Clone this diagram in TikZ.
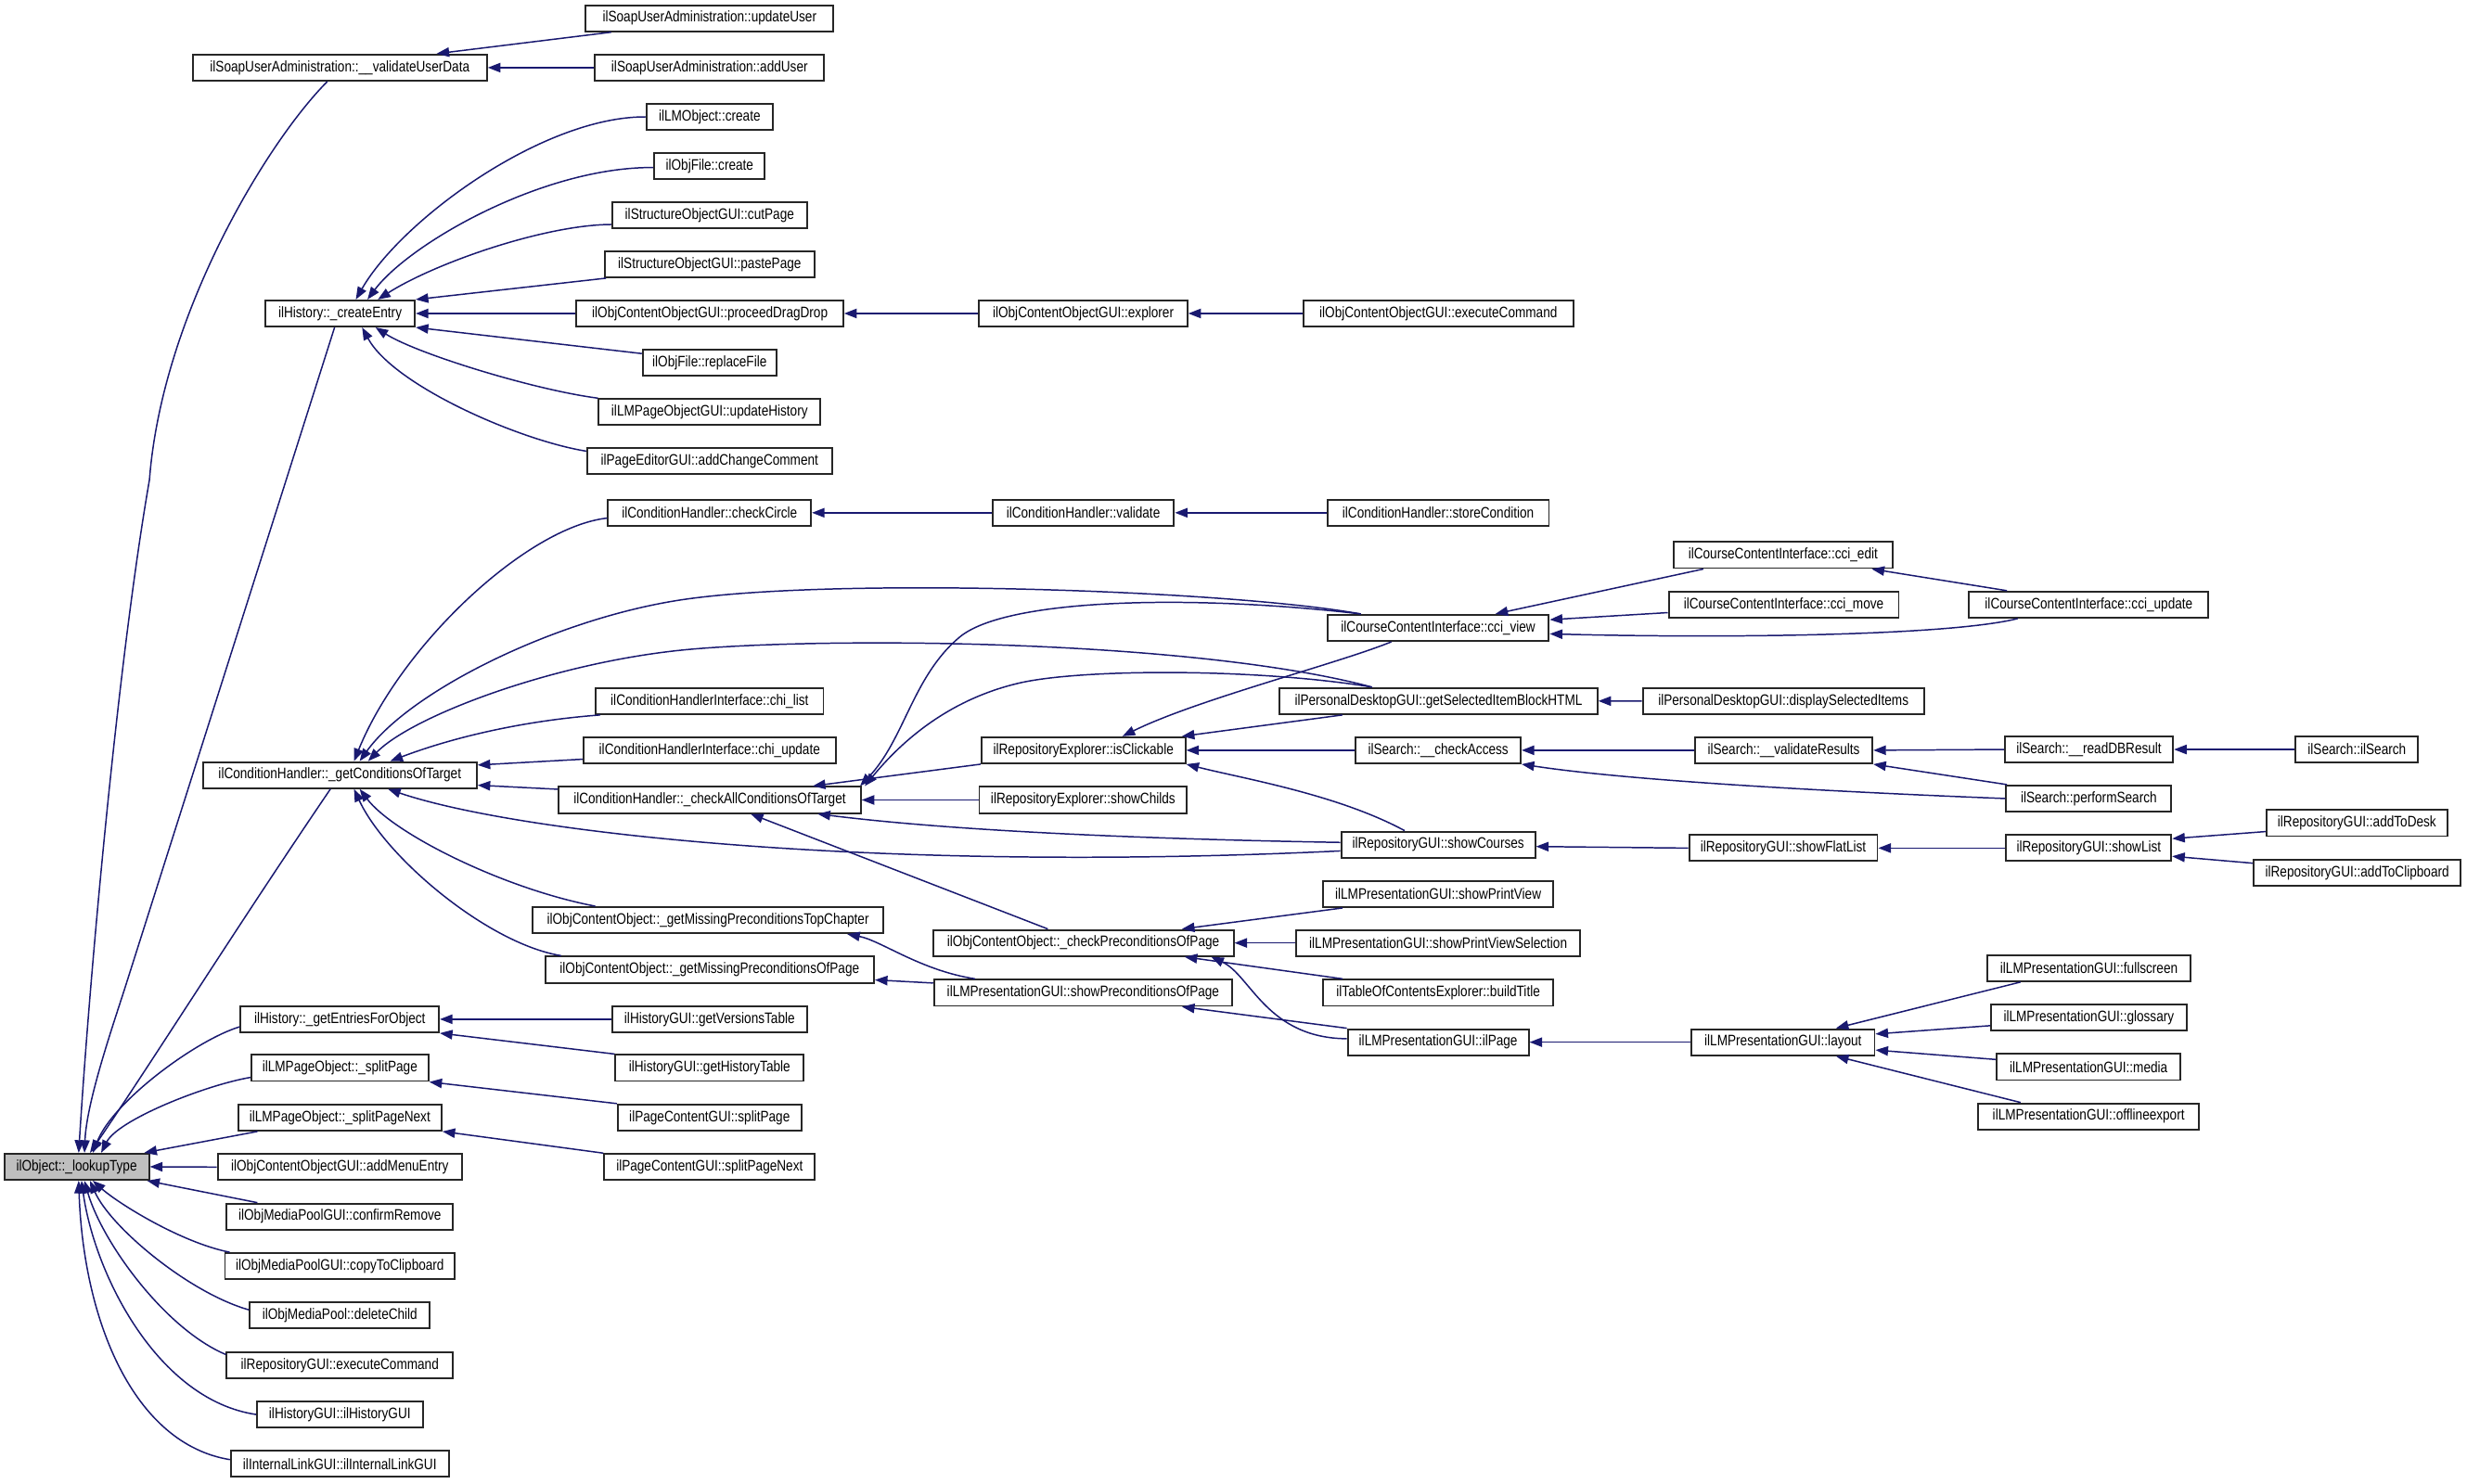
\documentclass[tikz,border=0pt]{standalone}
\usepackage{fontspec}
\newfontfamily\dxfont{Liberation Sans}[FakeStretch=0.83]
\usetikzlibrary{arrows.meta,calc}
\definecolor{edgeblue}{RGB}{25,25,112}
\definecolor{lookupgray}{RGB}{191,191,191}
\newcommand{\mkbox}[5]{\node[dbox, minimum width=#4*0.02cm] (#1) at (#2,#3) {#5};}
\begin{document}
\begin{tikzpicture}[x=0.02cm,y=-0.02cm,
  dbox/.style={draw=black!85, line width=0.65pt, fill=white, minimum height=0.332cm, inner sep=0pt, font=\dxfont\fontsize{5.5pt}{6.5pt}\selectfont},
  callarrow/.style={draw=edgeblue, line width=0.5pt, {Triangle[length=0.16cm,width=0.12cm]}-}]
\fill[white] (0,0) rectangle (1568,943);
\useasboundingbox (0,0) rectangle (1568,943);

% column 0
\node[dbox, fill=lookupgray, minimum width=92*0.02cm] (lookup) at (48.7,741.8) {ilObject::\_lookupType};

% column 1
\mkbox{vud}{216}{43}{187}{ilSoapUserAdministration::\_\_validateUserData}
\mkbox{ce}{216.15}{199.3}{95}{ilHistory::\_createEntry}
\mkbox{gct}{216}{492.8}{174}{ilConditionHandler::\_getConditionsOfTarget}
\mkbox{gefo}{216}{648}{126}{ilHistory::\_getEntriesForObject}
\mkbox{lsp}{216}{679}{112.6}{ilLMPageObject::\_splitPage}
\mkbox{lspn}{216}{710.5}{129.3}{ilLMPageObject::\_splitPageNext}
\mkbox{ame}{216}{742}{155.3}{ilObjContentObjectGUI::addMenuEntry}
\mkbox{cr}{216}{773.5}{143.7}{ilObjMediaPoolGUI::confirmRemove}
\mkbox{ctc}{216}{805}{146}{ilObjMediaPoolGUI::copyToClipboard}
\mkbox{dc}{216}{836.3}{114.3}{ilObjMediaPool::deleteChild}
\mkbox{rec}{216}{868}{143.7}{ilRepositoryGUI::executeCommand}
\mkbox{hgui}{216}{899.3}{105.3}{ilHistoryGUI::ilHistoryGUI}
\mkbox{ilg}{216}{930.7}{138.6}{ilInternalLinkGUI::ilInternalLinkGUI}

% column 2
\mkbox{uu}{451}{11.6}{157.4}{ilSoapUserAdministration::updateUser}
\mkbox{au}{451}{43}{145.6}{ilSoapUserAdministration::addUser}
\mkbox{lmc}{451}{74.3}{80.2}{ilLMObject::create}
\mkbox{ofc}{451}{105.5}{70.3}{ilObjFile::create}
\mkbox{cp}{451}{136.7}{123.8}{ilStructureObjectGUI::cutPage}
\mkbox{pp}{451}{168}{133.3}{ilStructureObjectGUI::pastePage}
\mkbox{pdd}{451.2}{199.3}{169.5}{ilObjContentObjectGUI::proceedDragDrop}
\mkbox{rf}{451}{230.5}{85}{ilObjFile::replaceFile}
\mkbox{uh}{451}{262}{140.8}{ilLMPageObjectGUI::updateHistory}
\mkbox{acc}{451}{293.3}{155.7}{ilPageEditorGUI::addChangeComment}
\mkbox{cc}{451}{326}{129}{ilConditionHandler::checkCircle}
\mkbox{chl}{451}{445.7}{144.7}{ilConditionHandlerInterface::chi\_list}
\mkbox{chu}{451}{477}{160.4}{ilConditionHandlerInterface::chi\_update}
\mkbox{cact}{451.1}{508.6}{192}{ilConditionHandler::\_checkAllConditionsOfTarget}
\mkbox{tc}{450}{585}{223}{ilObjContentObject::\_getMissingPreconditionsTopChapter}
\mkbox{mpp}{451}{616.5}{209}{ilObjContentObject::\_getMissingPreconditionsOfPage}
\mkbox{gvt}{451}{648}{124}{ilHistoryGUI::getVersionsTable}
\mkbox{ght}{451}{679}{119.6}{ilHistoryGUI::getHistoryTable}
\mkbox{pcsp}{451}{710.5}{116.8}{ilPageContentGUI::splitPage}
\mkbox{pcspn}{451}{742}{134}{ilPageContentGUI::splitPageNext}

% column 3
\mkbox{exp}{688.5}{199.3}{132.4}{ilObjContentObjectGUI::explorer}
\mkbox{val}{688.5}{326}{115.4}{ilConditionHandler::validate}
\mkbox{isc}{688.6}{477}{129.6}{ilRepositoryExplorer::isClickable}
\mkbox{sch}{688.4}{508.6}{132}{ilRepositoryExplorer::showChilds}
\mkbox{cpp}{688.5}{599.5}{191.1}{ilObjContentObject::\_checkPreconditionsOfPage}
\mkbox{spp}{688.4}{631.2}{189.5}{ilLMPresentationGUI::showPreconditionsOfPage}

% column 4
\mkbox{oec}{914.2}{199.3}{171.6}{ilObjContentObjectGUI::executeCommand}
\mkbox{sc}{914.1}{326}{140.8}{ilConditionHandler::storeCondition}
\mkbox{ccv}{914.1}{399.2}{140.7}{ilCourseContentInterface::cci\_view}
\mkbox{gsib}{914.3}{445.7}{202}{ilPersonalDesktopGUI::getSelectedItemBlockHTML}
\mkbox{ca}{914.1}{477}{104.9}{ilSearch::\_\_checkAccess}
\mkbox{scs}{914.1}{537}{123.2}{ilRepositoryGUI::showCourses}
\mkbox{spv}{914.1}{568.4}{146.2}{ilLMPresentationGUI::showPrintView}
\mkbox{spvs}{914.1}{599.5}{180.8}{ilLMPresentationGUI::showPrintViewSelection}
\mkbox{bt}{914.1}{631.2}{146.2}{ilTableOfContentsExplorer::buildTitle}
\mkbox{ilp}{914.1}{662.6}{115}{ilLMPresentationGUI::ilPage}

% column 5
\mkbox{cce}{1133.3}{352.9}{139.4}{ilCourseContentInterface::cci\_edit}
\mkbox{ccm}{1133.7}{384.4}{146.2}{ilCourseContentInterface::cci\_move}
\mkbox{dsi}{1133.5}{445.8}{178.7}{ilPersonalDesktopGUI::displaySelectedItems}
\mkbox{vr}{1133.7}{477}{112.8}{ilSearch::\_\_validateResults}
\mkbox{sfl}{1133.4}{539.2}{119.7}{ilRepositoryGUI::showFlatList}
\mkbox{lay}{1133.3}{662.6}{116.3}{ilLMPresentationGUI::layout}

% column 6
\mkbox{ccu}{1327.6}{384.4}{152.1}{ilCourseContentInterface::cci\_update}
\mkbox{rdb}{1327.7}{476.5}{107}{ilSearch::\_\_readDBResult}
\mkbox{ps}{1327.6}{507.7}{104.9}{ilSearch::performSearch}
\mkbox{sl}{1327.6}{539.2}{104.9}{ilRepositoryGUI::showList}
\mkbox{fs}{1327.7}{615.5}{128.8}{ilLMPresentationGUI::fullscreen}
\mkbox{gl}{1327.6}{647}{124.1}{ilLMPresentationGUI::glossary}
\mkbox{md}{1327.5}{678.4}{117}{ilLMPresentationGUI::media}
\mkbox{oe}{1327.5}{709.8}{140.2}{ilLMPresentationGUI::offlineexport}

% column 7
\mkbox{ils}{1498}{476.5}{77.9}{ilSearch::ilSearch}
\mkbox{atd}{1498}{523.3}{114.8}{ilRepositoryGUI::addToDesk}
\mkbox{atc}{1498.2}{555}{131.6}{ilRepositoryGUI::addToClipboard}

% ---- edges into lookupType
\draw[callarrow] ($(lookup.north)+(1.3,0)$) .. controls (57,620) and (75,420) .. (95,305) .. controls (103,200) and (170,90) .. ($(vud.south)+(-8,0)$);
\draw[callarrow] ($(lookup.north)+(5,0)$) .. controls (55,700) and (72.5,650) .. (80.4,625) -- ($(ce.south)+(-3.5,0)$);
\draw[callarrow] ($(lookup.north)+(8.5,0)$) .. controls (100,670) and (150,590) .. ($(gct.south)+(-6,0)$);
\draw[callarrow] ($(lookup.north)+(10.3,0)$) .. controls (72,700) and (125,661) .. ($(gefo.west)+(0,4.8)$);
\draw[callarrow] ($(lookup.north)+(15.6,0)$) .. controls (75,712) and (130,690) .. ($(lsp.west)+(0,6)$);
\draw[callarrow] ($(lookup.north east)+(-3.6,0)$) -- ($(lspn.south west)+(12.8,0)$);
\draw[callarrow] (lookup.east) -- (ame.west);
\draw[callarrow] ($(lookup.south east)+(-1.8,0)$) -- ($(cr.north west)+(20,0)$);
\draw[callarrow] ($(lookup.south)+(10.3,0)$) .. controls (75,765) and (115,790) .. ($(ctc.north west)+(3.5,0)$);
\draw[callarrow] ($(lookup.south)+(8.5,0)$) .. controls (70,780) and (120,822) .. ($(dc.west)+(0,-3.5)$);
\draw[callarrow] ($(lookup.south)+(4.9,0)$) .. controls (65,790) and (105,845) .. ($(rec.west)+(0,-6.8)$);
\draw[callarrow] ($(lookup.south)+(3.1,0)$) .. controls (60,810) and (100,890) .. (hgui.west);
\draw[callarrow] ($(lookup.south)+(1.3,0)$) .. controls (53,840) and (85,918) .. ($(ilg.west)+(0,-2.7)$);

% ---- validateUserData
\draw[callarrow] ($(vud.north)+(61.5,0)$) -- ($(uu.south west)+(16.7,0)$);
\draw[callarrow] (vud.east) -- (au.west);

% ---- createEntry
\draw[callarrow] ($(ce.north)+(10,0)$) .. controls (255,140) and (345,74) .. (lmc.west);
\draw[callarrow] ($(ce.north)+(17.4,0)$) .. controls (260,155) and (345,106) .. ($(ofc.west)+(0,1)$);
\draw[callarrow] ($(ce.north)+(24,0)$) .. controls (275,168) and (345,143) .. ($(cp.west)+(0,6)$);
\draw[callarrow] (ce.north east) -- ($(pp.south west)+(1.4,0)$);
\draw[callarrow] (ce.east) -- (pdd.west);
\draw[callarrow] (ce.south east) -- ($(rf.west)+(0,-5.7)$);
\draw[callarrow] ($(ce.south)+(22.5,0)$) .. controls (265,225) and (340,248) .. (uh.north west);
\draw[callarrow] ($(ce.south)+(14,0)$) .. controls (250,245) and (330,280) .. ($(acc.north west)+(0,2.4)$);
\draw[callarrow] (pdd.east) -- (exp.west);
\draw[callarrow] (exp.east) -- (oec.west);

% ---- getConditionsOfTarget
\draw[callarrow] ($(gct.north)+(9,0)$) .. controls (255,410) and (335,335) .. ($(cc.west)+(0,3.4)$);
\draw[callarrow] (cc.east) -- (val.west);
\draw[callarrow] (val.east) -- (sc.west);
\draw[callarrow] ($(gct.north)+(12.6,0)$) .. controls (260,440) and (350,395) .. (429,382) .. controls (524,366.4) and (780,375) .. ($(ccv.north west)+(21.7,0)$);
\draw[callarrow] ($(gct.north)+(18,0)$) .. controls (262,455) and (355,420) .. (440,412.7) .. controls (533.5,404.7) and (760,407) .. ($(gsib.north west)+(59.2,0)$);
\draw[callarrow] ($(gct.north)+(32,0)$) .. controls (290,468) and (335,458) .. ($(chl.south west)+(3.4,0)$);
\draw[callarrow] ($(gct.east)+(0,-6.4)$) -- ($(chu.west)+(0,5.7)$);
\draw[callarrow] ($(gct.east)+(0,6.4)$) -- ($(cact.west)+(0,-6.8)$);
\draw[callarrow] ($(gct.south)+(30.6,0)$) .. controls (330,530) and (560,555) .. ($(scs.west)+(0,4)$);
\draw[callarrow] ($(gct.south)+(12.6,0)$) .. controls (250,530) and (320,565) .. ($(tc.north west)+(40.4,0)$);
\draw[callarrow] ($(gct.south)+(9,0)$) .. controls (245,545) and (310,600) .. ($(mpp.north west)+(10.8,0)$);

% ---- checkAllConditionsOfTarget
\draw[callarrow] ($(cact.north east)+(-1,0)$) .. controls (575,470) and (580,430) .. (610,405) .. controls (640,380) and (760,378) .. ($(ccv.north west)+(21.7,0)$);
\draw[callarrow] ($(cact.north east)+(2,0)$) .. controls (570,475) and (600,445) .. (649,434) .. controls (690,425) and (800,425) .. ($(gsib.north west)+(59.2,0)$);
\draw[callarrow] ($(cact.north)+(65.5,0)$) -- (isc.south west);
\draw[callarrow] (cact.east) -- (sch.west);
\draw[callarrow] ($(cact.south east)+(-28,0)$) .. controls (620,530) and (760,534) .. ($(scs.west)+(0,-1.4)$);
\draw[callarrow] ($(cact.south)+(26,0)$) -- ($(cpp.north)+(-22.5,0)$);

% ---- isClickable
\draw[callarrow] ($(isc.north)+(24.8,0)$) .. controls (760,445) and (850,422) .. ($(ccv.south)+(-29.8,0)$);
\draw[callarrow] ($(isc.north east)+(-2.8,0)$) -- ($(gsib.south west)+(40.5,0)$);
\draw[callarrow] (isc.east) -- (ca.west);
\draw[callarrow] (isc.south east) .. controls (790,495) and (850,505) .. ($(scs.north)+(-21.3,0)$);

% ---- search
\draw[callarrow] (ca.east) -- (vr.west);
\draw[callarrow] (ca.south east) .. controls (1040,497) and (1180,504) .. (ps.west);
\draw[callarrow] (vr.east) -- (rdb.west);
\draw[callarrow] (vr.south east) -- ($(ps.north west)+(1,0)$);
\draw[callarrow] (rdb.east) -- (ils.west);

% ---- showCourses chain
\draw[callarrow] ($(scs.east)+(0,1.2)$) -- (sfl.west);
\draw[callarrow] (sfl.east) -- (sl.west);
\draw[callarrow] ($(sl.east)+(0,-6)$) -- ($(atd.west)+(0,5.4)$);
\draw[callarrow] ($(sl.east)+(0,5.2)$) -- ($(atc.west)+(0,-6.2)$);

% ---- cci_view
\draw[callarrow] ($(ccv.north)+(36.3,0)$) -- ($(cce.south west)+(19.6,0)$);
\draw[callarrow] ($(ccv.east)+(0,-5.2)$) -- ($(ccm.west)+(0,5.1)$);
\draw[callarrow] ($(ccv.east)+(0,3.8)$) .. controls (1100,406) and (1240,404) .. ($(ccu.south west)+(31.4,0)$);
\draw[callarrow] ($(cce.south east)+(-13.9,0)$) -- ($(ccu.north west)+(24.6,0)$);
\draw[callarrow] (gsib.east) -- (dsi.west);

% ---- preconditions
\draw[callarrow] ($(cpp.north east)+(-33.4,0)$) -- ($(spv.south west)+(12.9,0)$);
\draw[callarrow] (cpp.east) -- (spvs.west);
\draw[callarrow] ($(cpp.south east)+(-31.7,0)$) -- ($(bt.north west)+(12.9,0)$);
\draw[callarrow] ($(cpp.south east)+(-14.8,0)$) .. controls (795,620) and (805,660) .. ($(ilp.west)+(0,-2.2)$);
\draw[callarrow] ($(spp.south east)+(-32.5,0)$) -- (ilp.north west);
\draw[callarrow] ($(mpp.east)+(0,6.5)$) -- ($(spp.west)+(0,-6.2)$);
\draw[callarrow] ($(tc.south east)+(-23.6,0)$) .. controls (560,598) and (585,617) .. ($(spp.north west)+(26.7,0)$);
\draw[callarrow] (ilp.east) -- (lay.west);
\draw[callarrow] ($(lay.north)+(33.6,0)$) -- ($(fs.south west)+(21.5,0)$);
\draw[callarrow] ($(lay.east)+(0,-5.2)$) -- ($(gl.west)+(0,5.1)$);
\draw[callarrow] ($(lay.east)+(0,5)$) -- ($(md.west)+(0,-4.8)$);
\draw[callarrow] ($(lay.south)+(33.6,0)$) -- ($(oe.north west)+(27.4,0)$);

% ---- history / page objects
\draw[callarrow] (gefo.east) -- (gvt.west);
\draw[callarrow] (gefo.south east) -- (ght.north west);
\draw[callarrow] (lsp.south east) -- (pcsp.north west);
\draw[callarrow] (lspn.south east) -- (pcspn.north west);
\end{tikzpicture}
\end{document}
